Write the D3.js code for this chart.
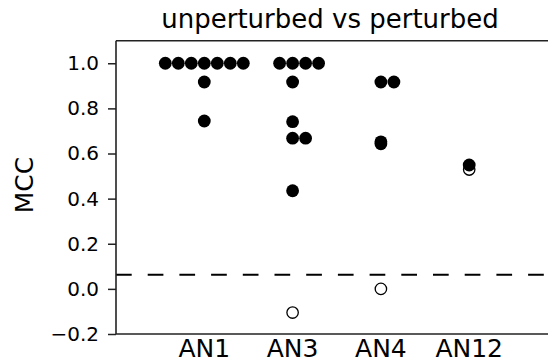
<!DOCTYPE html>
<html>
<head>
<meta charset="utf-8">
<script src="https://cdn.jsdelivr.net/npm/d3@7"></script>
<style>
  body { margin: 0; background: #fff; }
  text { font-family: "DejaVu Sans", sans-serif; fill: #000; }
</style>
</head>
<body>
<div id="chart"></div>
<script>
var categories = ["AN1", "AN3", "AN4", "AN12"];
var perturbed = [
  [1, 1, 1, 1, 1, 1, 1, 0.917, 0.744],
  [1, 1, 1, 1, 0.917, 0.741, 0.668, 0.668, 0.435],
  [0.917, 0.917, 0.652, 0.643],
  [0.549]
];
var unperturbed = [null, -0.105, 0.0, 0.529];
var threshold = 0.063;
var yTicks = [-0.2, 0.0, 0.2, 0.4, 0.6, 0.8, 1.0];

var width = 548, height = 362;
var margin = {top: 40.7, left: 116, bottom: 334};

var svg = d3.select("#chart").append("svg")
    .attr("width", width)
    .attr("height", height);

var x = d3.scaleLinear()
    .domain([0, 5])
    .range([margin.left, margin.left + 5 * 88.3]);

var y = d3.scaleLinear()
    .domain([-0.2, 1.1])
    .range([margin.bottom, margin.top]);

// swarm layout: tied values spread out 0, +1, -1, +2, ...
var step = 13;
function swarm(vals) {
  var seen = {};
  return vals.map(function(v) {
    var k = v.toFixed(3);
    var n = seen[k] || 0;
    seen[k] = n + 1;
    var slot = n === 0 ? 0 : (n % 2 === 1 ? (n + 1) / 2 : -n / 2);
    return {value: v, dx: slot * step};
  });
}

var filled = [], open = [];
categories.forEach(function(c, i) {
  swarm(perturbed[i]).forEach(function(p) {
    filled.push({cat: i, value: p.value, dx: p.dx});
  });
  if (unperturbed[i] !== null) open.push({cat: i, value: unperturbed[i]});
});

// threshold line
svg.append("line")
    .attr("x1", x(0)).attr("x2", width + 10)
    .attr("y1", y(threshold)).attr("y2", y(threshold))
    .attr("stroke", "#000")
    .attr("stroke-width", 2)
    .attr("stroke-dasharray", "15.7,16");

svg.append("g").selectAll("circle")
    .data(open)
    .enter().append("circle")
    .attr("cx", function(d) { return x(d.cat + 1); })
    .attr("cy", function(d) { return y(d.value); })
    .attr("r", 5.7)
    .attr("fill", "#fff")
    .attr("stroke", "#000")
    .attr("stroke-width", 1.3);

svg.append("g").selectAll("circle")
    .data(filled)
    .enter().append("circle")
    .attr("cx", function(d) { return x(d.cat + 1) + d.dx; })
    .attr("cy", function(d) { return y(d.value); })
    .attr("r", 6.4)
    .attr("fill", "#000");

// y axis
var yAxis = svg.append("g")
    .attr("transform", "translate(" + margin.left + ",0)")
    .call(d3.axisLeft(y).tickValues(yTicks).tickSize(8).tickPadding(9)
      .tickFormat(function(d) { return d3.format(".1f")(d).replace("-", "\u2212"); }));
yAxis.select(".domain").remove();
yAxis.selectAll(".tick line").attr("stroke", "#222").attr("stroke-width", 1.5);
yAxis.selectAll(".tick text")
    .style("font-family", "DejaVu Sans")
    .attr("font-size", 20)
    .attr("fill", "#000");

// spines
var spine = svg.append("g").attr("stroke", "#222").attr("stroke-width", 1.6);
spine.append("line").attr("x1", margin.left).attr("x2", margin.left)
    .attr("y1", margin.top).attr("y2", margin.bottom);
spine.append("line").attr("x1", margin.left).attr("x2", width + 10)
    .attr("y1", margin.top).attr("y2", margin.top);
spine.append("line").attr("x1", margin.left).attr("x2", width + 10)
    .attr("y1", margin.bottom).attr("y2", margin.bottom);

// x labels
svg.append("g").selectAll("text")
    .data(categories)
    .enter().append("text")
    .attr("x", function(d, i) { return x(i + 1); })
    .attr("y", 356.7)
    .attr("text-anchor", "middle")
    .attr("font-size", 25)
    .text(function(d) { return d; });

svg.append("text")
    .attr("x", 330)
    .attr("y", 27.5)
    .attr("text-anchor", "middle")
    .attr("font-size", 26)
    .text("unperturbed vs perturbed");

svg.append("text")
    .attr("transform", "translate(33,185) rotate(-90)")
    .attr("text-anchor", "middle")
    .attr("font-size", 25)
    .text("MCC");
</script>
</body>
</html>
